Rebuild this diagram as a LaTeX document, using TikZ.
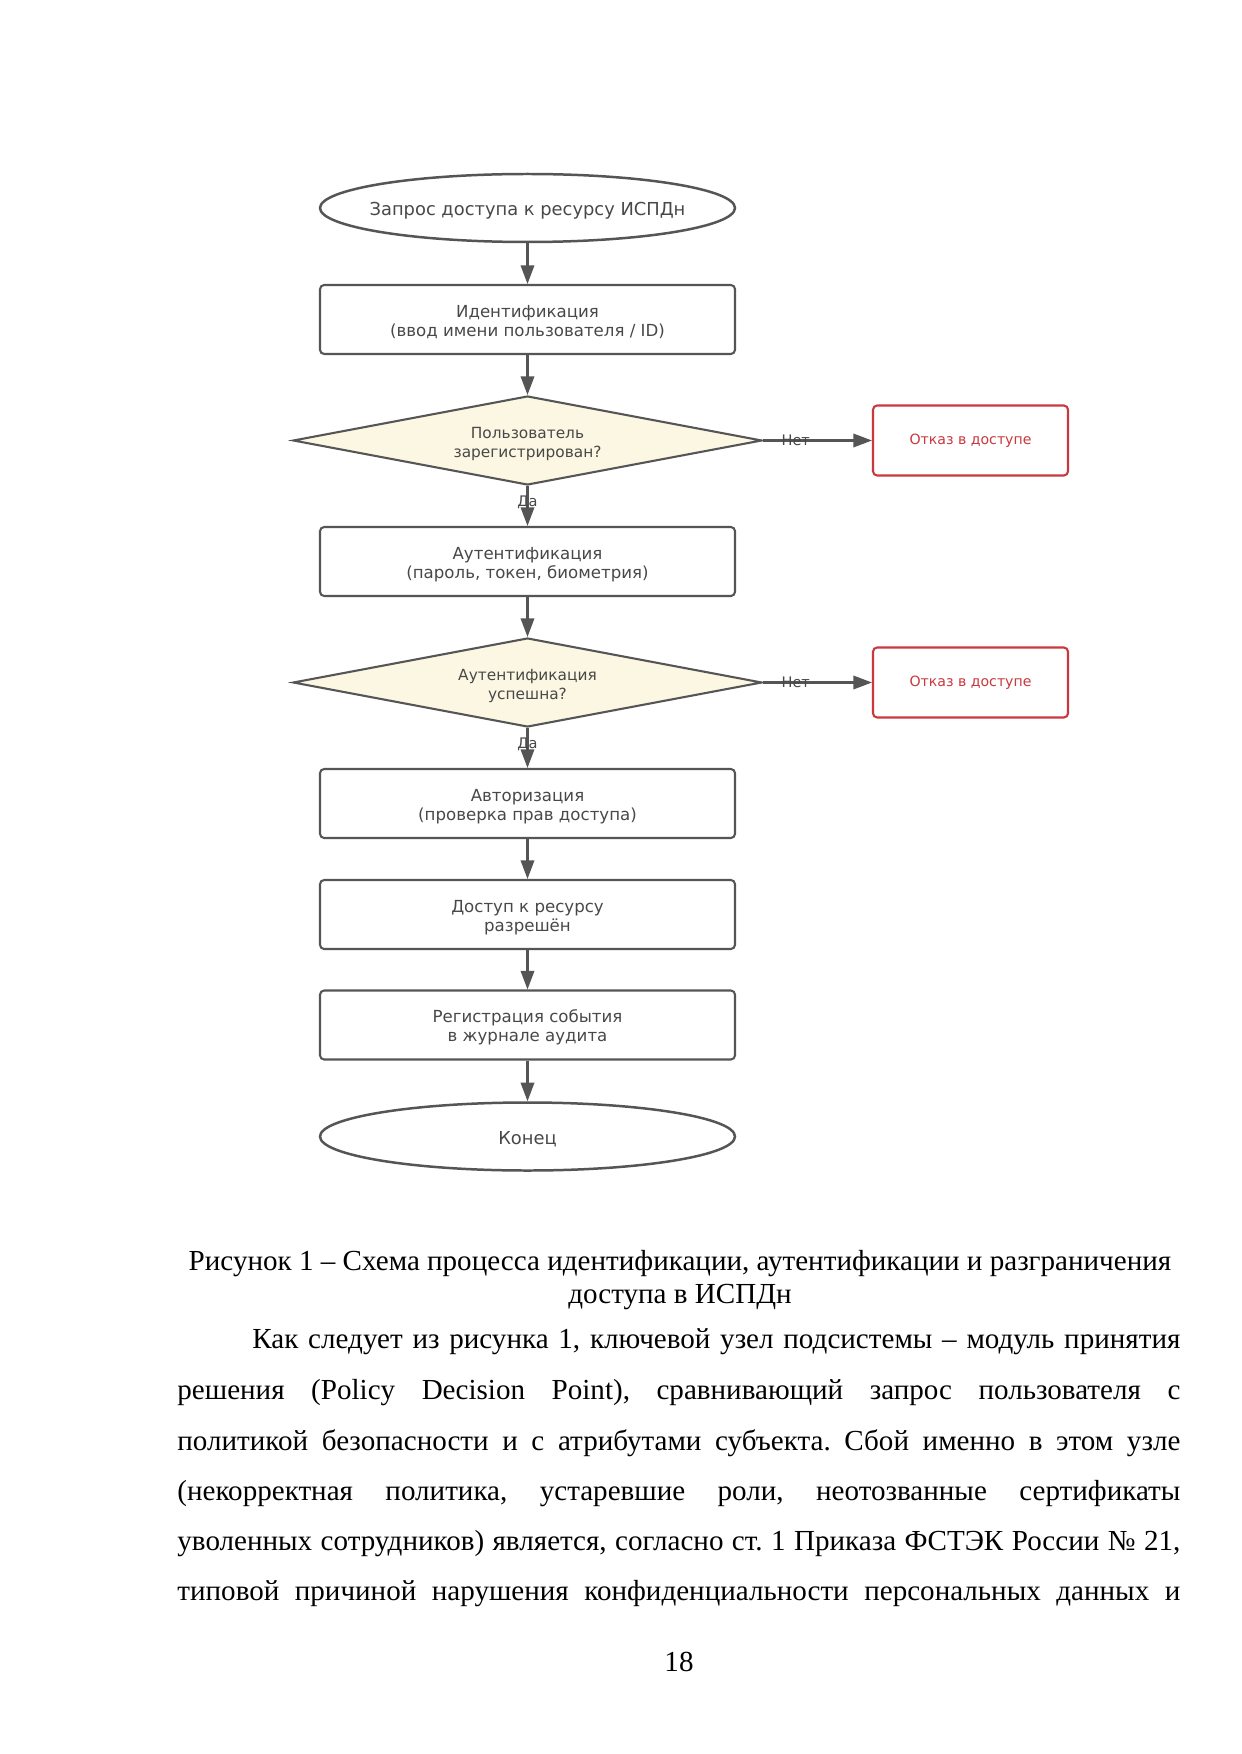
\documentclass[tikz,border=0pt]{standalone}
\usepackage{fontspec}
\setmainfont{Liberation Serif}
\newfontfamily\djv{DejaVu Sans}
\usetikzlibrary{shapes.geometric,arrows.meta}
\newlength\pxu
\setlength\pxu{0.48147pt}
\definecolor{lc}{HTML}{555555}
\definecolor{tc}{HTML}{484848}
\definecolor{rc}{HTML}{C8383E}
\definecolor{dfill}{HTML}{FCF7E3}
\newcommand\tx[1]{\raisebox{-3.5\pxu}[\height][\depth]{\begin{tabular}{@{}c@{}}#1\end{tabular}}}
\frenchspacing
\begin{document}
\begin{tikzpicture}[x=\pxu,y=-\pxu,
  every node/.style={inner sep=0pt},
  flow/.style={draw=lc, line width=1pt, text=tc, font=\djv\fontsize{8}{9.2}\selectfont, align=center},
  procbox/.style={flow, rectangle, rounded corners=2pt, minimum width=415*\pxu, minimum height=69*\pxu},
  term/.style={flow, ellipse, line width=1.2pt, minimum width=415*\pxu, minimum height=68*\pxu, font=\djv\fontsize{8.6}{10}\selectfont},
  decision/.style={flow, diamond, aspect=5.27, fill=dfill, minimum width=469*\pxu, minimum height=89*\pxu, font=\djv\fontsize{7.4}{9.2}\selectfont},
  deny/.style={draw=rc, line width=1pt, rectangle, rounded corners=2pt, text=rc, minimum width=195*\pxu, minimum height=70*\pxu, font=\djv\fontsize{6.8}{8}\selectfont},
  arr/.style={draw=lc, line width=1pt, -{Triangle[length=9pt,width=6.5pt]}},
  lab/.style={text=tc, font=\djv\fontsize{7}{8}\selectfont},
  body/.style={anchor=base west, font=\fontsize{14}{16}\selectfont},
  capt/.style={anchor=base, font=\fontsize{14}{16}\selectfont},
]
\useasboundingbox[fill=white] (0,0) rectangle (1241,1754);

\node[term] (start) at (527.5,208) {\makebox[0pt]{\tx{Запрос доступа к ресурсу ИСПДн}}};
\node[procbox] (id) at (527.5,319.5) {\tx{Идентификация\\(ввод имени пользователя / ID)}};
\node[decision] (d1) at (527.5,440.5) {\tx{Пользователь\\зарегистрирован?}};
\node[deny] (r1) at (970.5,440.5) {Отказ в доступе};
\node[procbox] (auth) at (527.5,561.5) {\tx{Аутентификация\\(пароль, токен, биометрия)}};
\node[decision] (d2) at (527.5,682.5) {\tx{Аутентификация\\успешна?}};
\node[deny] (r2) at (970.5,682.5) {Отказ в доступе};
\node[procbox] (authz) at (527.5,803.5) {\tx{Авторизация\\(проверка прав доступа)}};
\node[procbox] (grant) at (527.5,914.5) {\tx{Доступ к ресурсу\\разрешён}};
\node[procbox] (log) at (527.5,1025) {\tx{Регистрация события\\в журнале аудита}};
\node[term] (end) at (527.5,1136.5) {\makebox[0pt]{\tx{Конец}}};

\draw[arr] (start) -- (id);
\draw[arr] (id) -- (d1);
\draw[arr] (d1) -- node[lab, pos=0.4] {Да} (auth);
\draw[arr] (d1) -- node[lab, pos=0.3] {Нет} (r1);
\draw[arr] (auth) -- (d2);
\draw[arr] (d2) -- node[lab, pos=0.4] {Да} (authz);
\draw[arr] (d2) -- node[lab, pos=0.3] {Нет} (r2);
\draw[arr] (authz) -- (grant);
\draw[arr] (grant) -- (log);
\draw[arr] (log) -- (end);

\node[capt] (cap1) at (680,1270) {Рисунок 1 – Схема процесса идентификации, аутентификации и разграничения};
\node[capt] (cap2) at (680,1303) {доступа в ИСПДн};

\node[body] (b1) at (252,1348) {\makebox[928\pxu][s]{Как следует из рисунка 1, ключевой узел подсистемы – модуль принятия}};
\node[body] (b2) at (177,1399) {\makebox[1003\pxu][s]{решения (Policy Decision Point), сравнивающий запрос пользователя с}};
\node[body] (b3) at (177,1450) {\makebox[1003\pxu][s]{политикой безопасности и с атрибутами субъекта. Сбой именно в этом узле}};
\node[body] (b4) at (177,1500) {\makebox[1003\pxu][s]{(некорректная политика, устаревшие роли, неотозванные сертификаты}};
\node[body] (b5) at (177,1550) {\makebox[1003\pxu][s]{уволенных сотрудников) является, согласно ст. 1 Приказа ФСТЭК России № 21,}};
\node[body] (b6) at (177,1600) {\makebox[1003\pxu][s]{типовой причиной нарушения конфиденциальности персональных данных и}};

\node[capt] (pg) at (679,1671) {18};
\end{tikzpicture}
\end{document}
